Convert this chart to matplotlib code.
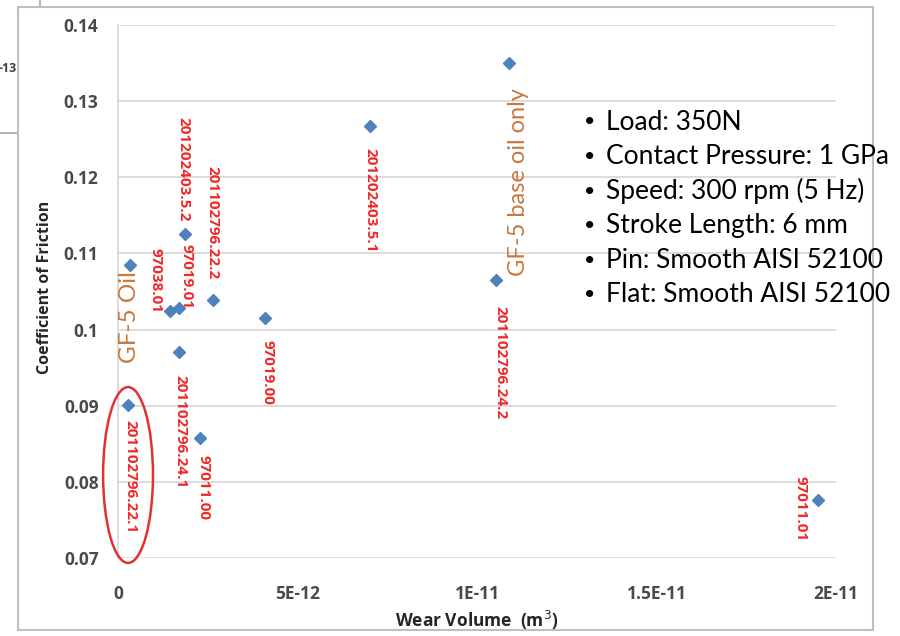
import matplotlib

matplotlib.use("Agg")
import matplotlib.pyplot as plt
from matplotlib.patches import Ellipse, Rectangle
from matplotlib.lines import Line2D

# wear volume (m^3) vs coefficient of friction
wear_volume = [2.9e-13, 3.3e-13, 1.45e-12, 1.71e-12, 1.87e-12, 2.65e-12,
               4.09e-12, 1.71e-12, 2.28e-12, 1.09e-11, 7.02e-12, 1.053e-11, 1.951e-11]
friction = [0.0901, 0.1085, 0.1025, 0.1028, 0.1126, 0.1039,
            0.1015, 0.0971, 0.0857, 0.135, 0.1268, 0.1065, 0.0776]
sample_ids = ["201102796.22.1", "", "97038.01", "97019.01", "201202403.5.2",
              "201102796.22.2", "97019.00", "201102796.24.1", "97011.00", "",
              "201202403.5.1", "201102796.24.2", "97011.01"]
# label offsets in pixels from the point
label_offsets = [(2, -72), (0, 0), (-15, 30), (7, 32), (-2, 64), (-1, 77),
                 (3, -54), (1, -80), (4, -49), (0, 0), (0, -75), (4, -83), (-18, -8)]

x_ticks = [0, 5e-12, 1e-11, 1.5e-11, 2e-11]
x_ticklabels = ["0", "5E-12", "1E-11", "1.5E-11", "2E-11"]
y_ticks = [0.07, 0.08, 0.09, 0.10, 0.11, 0.12, 0.13, 0.14]
y_ticklabels = ["0.07", "0.08", "0.09", "0.1", "0.11", "0.12", "0.13", "0.14"]

conditions = ["Load: 350N", "Contact Pressure: 1 GPa", "Speed: 300 rpm (5 Hz)",
              "Stroke Length: 6 mm", "Pin: Smooth AISI 52100", "Flat: Smooth AISI 52100"]

BOLD = ["Open Sans", "DejaVu Sans"]
W, H = 900, 636
fig = plt.figure(figsize=(9, 6.36), dpi=100)
fig.patch.set_facecolor("white")

# background chart peeking out behind
fig.add_artist(Line2D([40 / W, 40 / W], [1, 1 - 7 / H], color="#a6a6a6", lw=1.2, zorder=-3))
fig.add_artist(Line2D([0, 18 / W], [1 - 133 / H, 1 - 133 / H], color="#a6a6a6", lw=1.2, zorder=-3))
fig.text(17 / W, 1 - 68 / H, "-13", ha="right", va="center", fontsize=9,
         fontweight="bold", color="#404040", family=BOLD, zorder=-3)

# chart area
fig.add_artist(Rectangle((18 / W, 1 - 630 / H), (873 - 18) / W, (630 - 7) / H,
                         transform=fig.transFigure, facecolor="white",
                         edgecolor="#bfbfbf", lw=1.5, zorder=-2))

ax = fig.add_axes([118 / W, 1 - 558 / H, (836 - 118) / W, (558 - 25) / H])
ax.set_facecolor("none")
ax.set_xlim(0, 2e-11)
ax.set_ylim(0.07, 0.14)
ax.set_xticks(x_ticks)
ax.set_xticklabels(x_ticklabels)
ax.set_yticks(y_ticks)
ax.set_yticklabels(y_ticklabels)
ax.tick_params(length=0, labelsize=12.5, labelcolor="#4a4a4a")
ax.tick_params(axis="y", pad=14)
ax.tick_params(axis="x", pad=19.5)
for lbl in ax.get_xticklabels() + ax.get_yticklabels():
    lbl.set_fontweight("bold")
    lbl.set_family(BOLD)
ax.grid(axis="y", color="#d9d9d9", lw=1.3)
ax.set_axisbelow(True)
for side in ["top", "right", "bottom"]:
    ax.spines[side].set_visible(False)
ax.spines["left"].set_color("#d9d9d9")
ax.spines["left"].set_linewidth(1.3)

ax.plot(wear_volume, friction, linestyle="none", marker="D", markersize=6.5,
        color="#4f81bd", zorder=3)

for xv, yv, sid, off in zip(wear_volume, friction, sample_ids, label_offsets):
    if not sid:
        continue
    ax.annotate(sid, (xv, yv), xytext=off, textcoords="offset pixels",
                rotation=270, ha="center", va="center", fontsize=11,
                fontweight="bold", color="#f02828", family=BOLD, zorder=4)

# group notes
ax.annotate("GF-5 Oil", (wear_volume[0], friction[0]), xytext=(1, 88),
            textcoords="offset pixels", rotation=90, ha="center", va="center",
            fontsize=17.5, color="#c8783c", family="Lato")
ax.annotate("GF-5 base oil only", (wear_volume[9], friction[9]), xytext=(9, -119),
            textcoords="offset pixels", rotation=90, ha="center", va="center",
            fontsize=17, color="#c8783c", family="Lato")

# highlight around the GF-5 oil sample
ax.add_patch(Ellipse((2.8e-13, 0.0809), 1.39e-12, 0.0231, fill=False,
                     edgecolor="#e03232", lw=1.8, clip_on=False, zorder=5))

fig.text(45 / W, 1 - 287 / H, "Coefficient of Friction", rotation=90, ha="center",
         va="center", fontsize=11.5, fontweight="bold", color="#262626", family=BOLD)
fig.text(477 / W, 1 - 620 / H, "Wear Volume  (m$^3$)", ha="center", va="center",
         fontsize=12.5, fontweight="bold", color="#262626", family=BOLD)

for i, line in enumerate(conditions):
    yy = 1 - (122 + i * 34.6) / H
    fig.text(590 / W, yy, "\u2022", ha="center", va="center", fontsize=14,
             color="black", family="Lato")
    fig.text(606 / W, yy, line, ha="left", va="center", fontsize=19,
             color="black", family="Lato")

fig.savefig("out.png", dpi=100)
